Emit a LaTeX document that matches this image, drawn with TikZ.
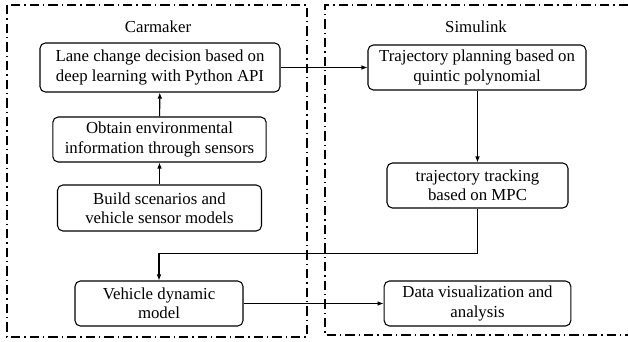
\documentclass[tikz,border=0pt]{standalone}
\usepackage{fontspec}
\setmainfont{Liberation Serif}
\usetikzlibrary{arrows.meta}
\tikzset{
  stage/.style={draw, rounded corners=4pt, line width=0.8pt, align=center,
    font=\fontsize{12.6}{14.4}\selectfont, inner sep=1pt},
  frame/.style={line width=0.8pt, dash pattern=on 7pt off 3pt on 1pt off 3pt},
  flow/.style={-{Latex[length=4.5pt,width=3.5pt]}, line width=0.8pt}
}
\begin{document}
\begin{tikzpicture}[x=0.75pt, y=-0.75pt]
      \useasboundingbox (0,0) rectangle (628,342);
      % tool frames
      \draw[frame] (7,5) rectangle (307,337);
      \draw[frame] (628,5) -- (325,5) -- (325,335) -- (628,335);
      \node[font=\fontsize{12.6}{14}\selectfont] (carmaker) at (158,27) {Carmaker};
      \node[font=\fontsize{12.6}{14}\selectfont] (simulink) at (476,27) {Simulink};
      % stages
      \draw
        (160,67.5) node[stage, minimum width=180pt, minimum height=36.75pt] (decision)
          {Lane change decision based on\\deep learning with Python API}
        (159.5,139.5) node[stage, minimum width=160pt, minimum height=33.75pt] (sensing)
          {Obtain environmental\\information through sensors}
        (159.5,208) node[stage, minimum width=153pt, minimum height=34.5pt] (scenario)
          {Build scenarios and\\vehicle sensor models}
        (159,303.5) node[stage, minimum width=126pt, minimum height=33.75pt] (dynamics)
          {Vehicle dynamic\\model}
        (477,67.5) node[stage, minimum width=163.5pt, minimum height=33.75pt] (planning)
          {Trajectory planning based on\\quintic polynomial}
        (477.5,185.5) node[stage, minimum width=135.75pt, minimum height=33.75pt] (tracking)
          {trajectory tracking\\based on MPC}
        (477.5,303.5) node[stage, minimum width=140pt, minimum height=33.75pt] (visual)
          {Data visualization and\\analysis};
      \coordinate (turn) at (477.5,253.5);
      \begin{scope}[flow]
        \draw (scenario) to (sensing);
        \draw (sensing) to (decision);
        \draw (decision) to (planning);
        \draw (planning.south -| tracking) to (tracking);
        \draw (tracking) |- (turn) -| (dynamics);
        \draw (dynamics) to (visual);
      \end{scope}
    \end{tikzpicture}
\end{document}
